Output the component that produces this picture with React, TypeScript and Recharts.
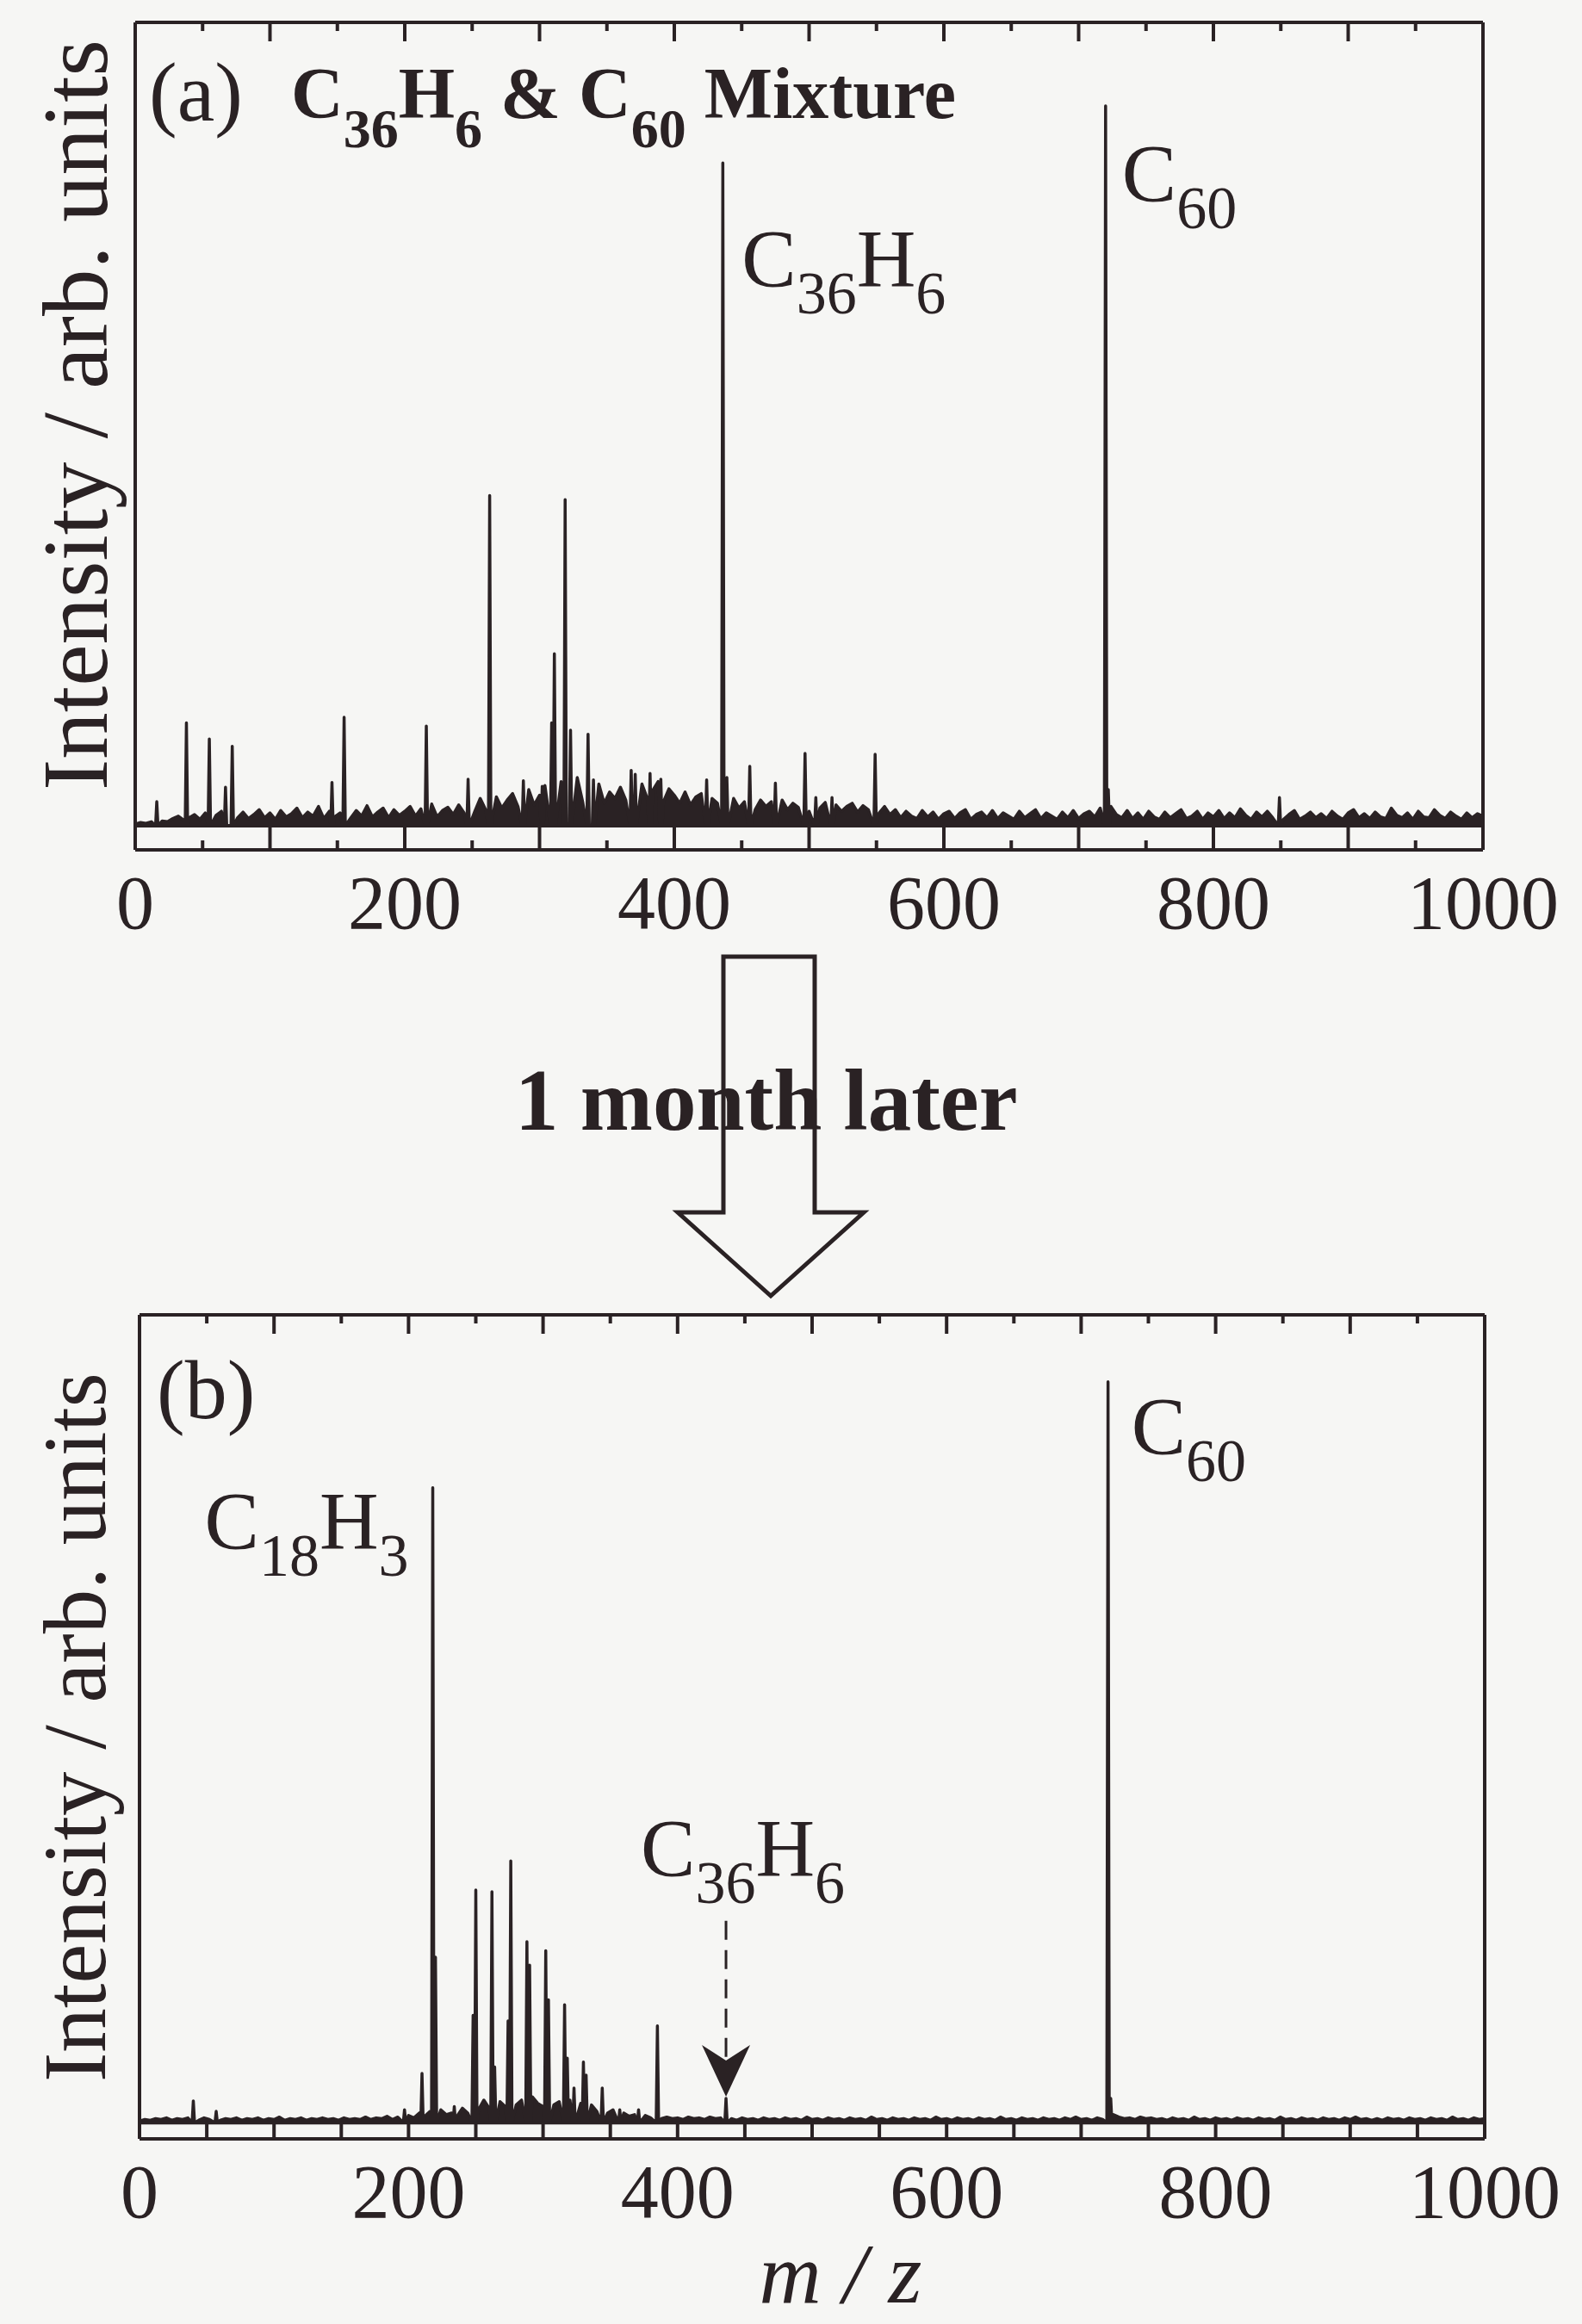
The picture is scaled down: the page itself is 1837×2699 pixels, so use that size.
import React from 'react';
import { ComposedChart, Area, XAxis, YAxis, ReferenceLine, ReferenceDot } from 'recharts';

const INK = '#2a2224';
const PAPER = '#f6f6f4';
const SERIF = '"Liberation Serif", "Times New Roman", serif';

// m/z axis
const MZ_TICKS = [0, 50, 100, 150, 200, 250, 300, 350, 400, 450, 500, 550, 600, 650, 700, 750, 800, 850, 900, 950, 1000];
const MZ_LABELS = [0, 200, 400, 600, 800, 1000];
const NOISE_STEP = 4; // noise floor sampled every 4 m/z

// (a) C36H6 & C60 mixture, fresh
const peakMzA = [16, 38, 55, 67, 72, 146, 155, 216, 247, 263, 288, 302, 309, 311, 319, 323, 336, 340, 368, 371, 382, 390, 424, 436, 439, 456, 475, 497, 505, 517, 549, 720, 722, 849];
const peakIntA = [30, 128, 108, 48, 99, 54, 135, 124, 58, 411, 56, 49, 128, 214, 406, 119, 114, 57, 69, 64, 65, 58, 57, 825, 60, 74, 53, 90, 35, 35, 89, 896, 45, 35];
const noiseA = [
  2, 4, 3, 5, 8, 6, 5, 9, 12, 7,
  10, 14, 8, 16, 9, 13, 18, 8, 15, 10,
  17, 9, 14, 20, 10, 16, 8, 19, 11, 15,
  22, 10, 17, 12, 24, 9, 18, 11, 16, 21,
  10, 19, 12, 25, 11, 17, 22, 10, 20, 13,
  18, 24, 12, 21, 14, 27, 11, 19, 23, 14,
  26, 16, 30, 18, 34, 20, 28, 36, 22, 32,
  40, 24, 35, 45, 26, 38, 50, 28, 44, 55,
  33, 48, 60, 30, 45, 36, 52, 28, 42, 34,
  48, 32, 58, 38, 52, 34, 44, 55, 30, 46,
  38, 28, 42, 26, 36, 40, 24, 34, 28, 38,
  26, 34, 22, 30, 36, 20, 32, 24, 30, 22,
  32, 20, 28, 23, 30, 18, 27, 22, 29, 19,
  26, 18, 24, 28, 17, 25, 20, 30, 16, 24,
  14, 20, 10, 18, 12, 9, 19, 11, 17, 8,
  15, 18, 9, 16, 20, 8, 14, 17, 10, 19,
  9, 16, 12, 8, 18, 10, 15, 20, 9, 16,
  12, 8, 17, 10, 19, 9, 15, 18, 11, 22,
  20, 24, 14, 10, 19, 9, 16, 8, 18, 11,
  8, 17, 10, 15, 20, 9, 12, 18, 8, 16,
  11, 19, 9, 16, 10, 21, 13, 8, 17, 11,
  18, 10, 16, 8, 14, 19, 8, 12, 17, 10,
  15, 9, 18, 12, 8, 16, 20, 10, 15, 9,
  17, 11, 9, 22, 13, 10, 16, 8, 18, 11,
  10, 20, 13, 9, 17, 12, 8, 16, 10, 15,
  12,
];

// (b) the same sample one month later
const peakMzB = [40, 57, 197, 210, 218, 220, 234, 248, 250, 262, 264, 274, 276, 288, 290, 302, 304, 316, 318, 323, 330, 332, 344, 357, 371, 385, 436, 720, 722];
const peakIntB = [27, 14, 16, 61, 786, 205, 20, 133, 288, 286, 69, 126, 324, 224, 195, 213, 152, 146, 80, 43, 75, 59, 43, 16, 16, 120, 30, 917, 30];
const noiseB = [
  2, 4, 3, 5, 4, 6, 3, 5, 4, 6,
  5, 3, 6, 4, 7, 3, 5, 4, 6, 3,
  5, 4, 6, 3, 5, 4, 7, 3, 5, 4,
  6, 3, 5, 4, 6, 4, 5, 3, 6, 4,
  5, 4, 7, 4, 6, 5, 8, 4, 7, 6,
  9, 6, 12, 8, 14, 9, 16, 10, 12, 8,
  18, 12, 24, 16, 28, 18, 22, 26, 20, 30,
  22, 28, 18, 32, 24, 20, 30, 22, 26, 18,
  28, 20, 24, 16, 22, 14, 20, 12, 16, 10,
  12, 8, 10, 7, 9, 6, 8, 5, 7, 5,
  6, 4, 7, 5, 6, 4, 7, 5, 6, 8,
  5, 3, 6, 4, 5, 3, 6, 4, 5, 3,
  6, 4, 5, 3, 7, 4, 5, 3, 6, 4,
  5, 3, 6, 4, 5, 3, 7, 4, 5, 3,
  6, 4, 5, 3, 6, 4, 5, 3, 7, 4,
  5, 3, 6, 4, 5, 3, 6, 4, 5, 3,
  7, 4, 5, 3, 6, 4, 5, 3, 6, 4,
  5, 3, 6, 4, 7, 4, 5, 3, 6, 4,
  8, 10, 7, 5, 6, 4, 7, 5, 6, 4,
  5, 3, 6, 4, 5, 3, 7, 4, 5, 3,
  6, 4, 5, 3, 6, 4, 5, 3, 6, 4,
  5, 3, 7, 4, 5, 3, 6, 4, 5, 3,
  6, 4, 5, 3, 6, 4, 7, 4, 5, 3,
  5, 3, 6, 4, 5, 3, 6, 4, 5, 3,
  6, 4, 5, 3, 7, 4, 5, 3, 6, 4,
  5,
];

type Pt = { mz: number; y: number };

// merge the noise floor with stick peaks into one m/z-sorted trace
function buildSpectrum(noise: number[], mz: number[], inten: number[]): Pt[] {
  const pts: Pt[] = [];
  noise.forEach((v, i) => {
    const x = i * NOISE_STEP;
    if (mz.some((p) => Math.abs(p - x) < 1.5)) return;
    pts.push({ mz: x, y: v });
  });
  mz.forEach((p, i) => {
    pts.push({ mz: p - 0.9, y: 0 }, { mz: p, y: inten[i] }, { mz: p + 0.9, y: 0 });
  });
  return pts.sort((a, b) => a.mz - b.mz);
}

const spectrumA = buildSpectrum(noiseA, peakMzA, peakIntA);
const spectrumB = buildSpectrum(noiseB, peakMzB, peakIntB);

const peakOf = (mzs: number[], ints: number[], m: number) => ints[mzs.indexOf(m)];

type Part = [string, boolean];
const C60: Part[] = [['C', false], ['60', true]];
const C36H6: Part[] = [['C', false], ['36', true], ['H', false], ['6', true]];
const C18H3: Part[] = [['C', false], ['18', true], ['H', false], ['3', true]];

function Formula({ x, y, parts, size, sub, shift, anchor = 'start', weight = 'normal' }: any) {
  let down = false;
  return (
    <text x={x} y={y} textAnchor={anchor} fontFamily={SERIF} fontSize={size} fontWeight={weight} fill={INK}>
      {parts.map(([t, isSub]: Part, i: number) => {
        const dy = isSub && !down ? shift : !isSub && down ? -shift : 0;
        down = isSub;
        return (
          <tspan key={i} dy={dy} fontSize={isSub ? sub : size}>
            {t}
          </tspan>
        );
      })}
    </text>
  );
}

// peak label hung off the top of a peak
const peakLabel = (parts: Part[], dx: number, dy: number, anchor = 'start') => (p: any) => (
  <Formula x={p.cx + dx} y={p.cy + dy} parts={parts} size={95} sub={70} shift={31} anchor={anchor} />
);

const arrowHead = (p: any) => (
  <polygon
    points={`${p.cx},${p.cy - 2} ${p.cx - 28},${p.cy - 62} ${p.cx},${p.cy - 44} ${p.cx + 28},${p.cy - 62}`}
    fill={INK}
  />
);

function BottomTick({ x, y, payload, major, minor }: any) {
  const v = payload.value;
  const len = v % 100 === 0 ? major : minor;
  return (
    <g>
      <line x1={x} x2={x} y1={y} y2={y - len} stroke={INK} strokeWidth={4} />
      {MZ_LABELS.includes(v) && (
        <text x={x} y={y + 91} textAnchor="middle" fontFamily={SERIF} fontSize={88} fill={INK}>
          {v}
        </text>
      )}
    </g>
  );
}

function TopTick({ x, y, payload }: any) {
  const len = payload.value % 100 === 0 ? 22 : 10;
  return <line x1={x} x2={x} y1={y} y2={y + len} stroke={INK} strokeWidth={4} />;
}

const frame = { stroke: INK, strokeWidth: 4 };

function Panel({ data, top, height, axisTop, axisBottom, left, right, yMin, major, minor, children }: any) {
  return (
    <div style={{ position: 'absolute', left: 0, top, width: 1837, height }}>
      <ComposedChart width={1837} height={height} data={data} margin={{ top: 0, right: 0, bottom: 0, left: 0 }}>
        <XAxis
          xAxisId="b"
          dataKey="mz"
          type="number"
          domain={[0, 1000]}
          ticks={MZ_TICKS}
          interval={0}
          height={axisBottom}
          tickSize={0}
          tickMargin={0}
          axisLine={frame}
          tickLine={false}
          tick={(p: any) => <BottomTick {...p} major={major} minor={minor} />}
          allowDataOverflow
        />
        <XAxis
          xAxisId="t"
          orientation="top"
          dataKey="mz"
          type="number"
          domain={[0, 1000]}
          ticks={MZ_TICKS}
          interval={0}
          height={axisTop}
          tickSize={0}
          tickMargin={0}
          axisLine={frame}
          tickLine={false}
          tick={(p: any) => <TopTick {...p} />}
          allowDataOverflow
        />
        <YAxis yAxisId="l" type="number" domain={[yMin, 1000]} width={left} tick={false} tickLine={false} axisLine={frame} allowDataOverflow />
        <YAxis yAxisId="r" orientation="right" type="number" domain={[yMin, 1000]} width={right} tick={false} tickLine={false} axisLine={frame} allowDataOverflow />
        <ReferenceLine xAxisId="b" yAxisId="l" y={0} stroke={INK} strokeWidth={4} />
        <Area
          xAxisId="b"
          yAxisId="l"
          type="linear"
          dataKey="y"
          baseValue={0}
          stroke={INK}
          strokeWidth={3.5}
          strokeLinejoin="round"
          fill={INK}
          fillOpacity={1}
          dot={false}
          activeDot={false}
          isAnimationActive={false}
        />
        {children}
      </ComposedChart>
    </div>
  );
}

export default function App() {
  const ax = { xAxisId: 'b', yAxisId: 'l' };
  return (
    <div style={{ position: 'absolute', left: 0, top: 0, width: 1837, height: 2699, background: PAPER, overflow: 'hidden' }}>
      <Panel data={spectrumA} top={0} height={1100} axisTop={26} axisBottom={113} left={157} right={115} yMin={-30} major={28} minor={11}>
        {[
          <ReferenceDot key="c60" {...ax} x={720} y={peakOf(peakMzA, peakIntA, 720)} r={0} shape={peakLabel(C60, 19, 111)} />,
          <ReferenceDot key="c36" {...ax} x={436} y={peakOf(peakMzA, peakIntA, 436)} r={0} shape={peakLabel(C36H6, 22, 144)} />,
        ]}
      </Panel>
      <Panel data={spectrumB} top={1400} height={1299} axisTop={127} axisBottom={215} left={162} right={113} yMin={-20} major={19} minor={19}>
        {[
          <ReferenceDot key="c60" {...ax} x={720} y={peakOf(peakMzB, peakIntB, 720)} r={0} shape={peakLabel(C60, 27, 84)} />,
          <ReferenceDot key="c18" {...ax} x={218} y={peakOf(peakMzB, peakIntB, 218)} r={0} shape={peakLabel(C18H3, -28, 71, 'end')} />,
          <ReferenceDot key="c36" {...ax} x={436} y={peakOf(peakMzB, peakIntB, 436)} r={0} shape={peakLabel(C36H6, -99, -258)} />,
          <ReferenceLine
            key="dash"
            {...ax}
            segment={[{ x: 436, y: 250 }, { x: 436, y: 70 }]}
            stroke={INK}
            strokeWidth={3}
            strokeDasharray="22 12"
          />,
          <ReferenceDot key="head" {...ax} x={436} y={peakOf(peakMzB, peakIntB, 436)} r={0} shape={arrowHead} />,
        ]}
      </Panel>

      <svg width={1837} height={2699} style={{ position: 'absolute', left: 0, top: 0, pointerEvents: 'none' }}>
        <text x={173} y={140} fontFamily={SERIF} fontSize={98} fill={INK}>(a)</text>
        <Formula
          x={338}
          y={137}
          parts={[['C', false], ['36', true], ['H', false], ['6', true], [' & C', false], ['60', true], [' Mixture', false]]}
          size={84}
          sub={64}
          shift={34}
          weight="bold"
        />
        <text x={182} y={1647} fontFamily={SERIF} fontSize={98} fill={INK}>(b)</text>

        <text transform="translate(124, 482) rotate(-90)" textAnchor="middle" fontFamily={SERIF} fontSize={109} fill={INK}>
          Intensity / arb. units
        </text>
        <text transform="translate(122, 2006) rotate(-90)" textAnchor="middle" fontFamily={SERIF} fontSize={103} fill={INK}>
          Intensity / arb. units
        </text>

        <text x={598} y={1312} fontFamily={SERIF} fontSize={101} fontWeight="bold" fill={INK}>1 month later</text>
        <polygon
          points="840,1111 946,1111 946,1408 1003,1408 895,1505 787,1408 840,1408"
          fill="none"
          stroke={INK}
          strokeWidth={5}
          strokeLinejoin="miter"
        />

        <text x={976} y={2674} textAnchor="middle" fontFamily={SERIF} fontSize={100} fontStyle="italic" fill={INK}>
          m / z
        </text>
      </svg>
    </div>
  );
}
